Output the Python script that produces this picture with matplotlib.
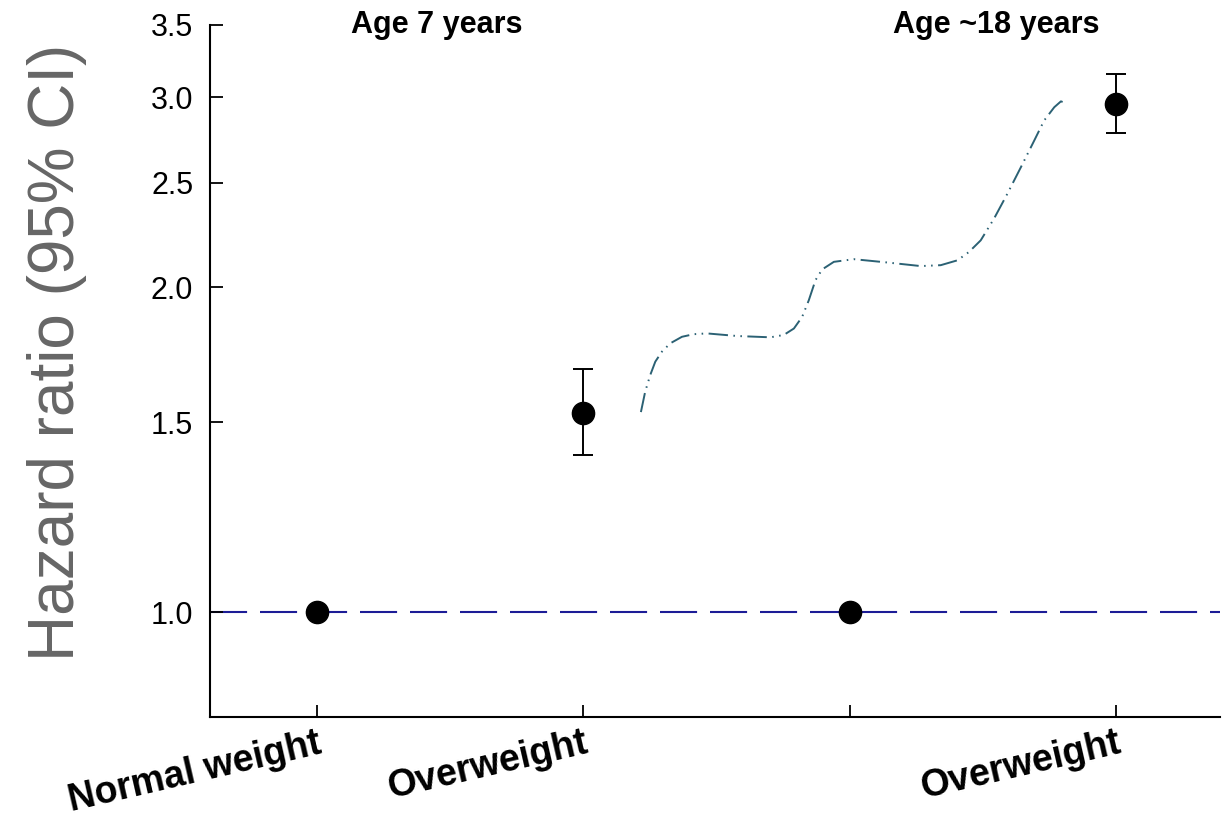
import matplotlib
matplotlib.use("Agg")
import matplotlib.pyplot as plt

# categorias e valores (razao de risco e IC 95%)
categorias = ["Normal weight", "Overweight", "", "Overweight"]
hr = [1.0, 1.53, 1.0, 2.96]
ic_inf = [1.0, 1.40, 1.0, 2.78]
ic_sup = [1.0, 1.68, 1.0, 3.15]

# curva tracejada entre os grupos
curva_x = [1.217, 1.233, 1.252, 1.271, 1.296, 1.327, 1.371, 1.415, 1.465, 1.578,
           1.703, 1.753, 1.791, 1.822, 1.847, 1.872, 1.897, 1.941, 2.016, 2.142,
           2.267, 2.342, 2.405, 2.448, 2.492, 2.542, 2.592, 2.643, 2.693, 2.730,
           2.768, 2.793, 2.812]
curva_y = [1.533, 1.601, 1.659, 1.707, 1.744, 1.775, 1.800, 1.810, 1.813, 1.803,
           1.798, 1.807, 1.832, 1.878, 1.946, 2.031, 2.078, 2.112, 2.124, 2.109,
           2.093, 2.097, 2.119, 2.157, 2.211, 2.316, 2.442, 2.585, 2.736, 2.855,
           2.937, 2.974, 2.962]

yticks = [1.0, 1.5, 2.0, 2.5, 3.0, 3.5]
titulos = ["Age 7 years", "Age ~18 years"]
titulos_x = [0.45, 2.55]

plt.rcParams["font.family"] = ["Liberation Sans", "DejaVu Sans"]

fig = plt.figure(figsize=(12.3, 8.22), dpi=100)
ax = fig.add_axes([0.1707, 0.1277, 0.8212, 0.8419])

x = list(range(len(hr)))

ax.axhline(1.0, color="#1c1c96", lw=1.5, dashes=(17.8, 6.2), zorder=1)
ax.plot(curva_x, curva_y, color="#2b6174", lw=1.4,
        dashes=(10, 2.8, 0.8, 2.8, 0.8, 2.8))

erro_baixo = [h - l for h, l in zip(hr, ic_inf)]
erro_cima = [u - h for h, u in zip(hr, ic_sup)]
ax.errorbar(x, hr, yerr=[erro_baixo, erro_cima], fmt="o", color="black",
            ms=16, capsize=7.5, elinewidth=1.4, capthick=1.4, zorder=3)

ax.set_yscale("log")
ax.set_ylim(0.8, 3.5)
ax.set_xlim(-0.4, 3.39)
ax.set_yticks(yticks)
ax.set_yticklabels([f"{v:.1f}" for v in yticks], fontsize=22)
ax.yaxis.set_minor_locator(matplotlib.ticker.NullLocator())
ax.set_xticks(x)
ax.set_xticklabels(categorias, fontsize=27, fontweight="bold", rotation=13,
                   ha="right", va="top", rotation_mode="anchor")
ax.tick_params(axis="y", direction="in", length=9, width=1.3, pad=12)
ax.tick_params(axis="x", direction="in", length=9, width=1.3, pad=6)

for lado in ["top", "right"]:
    ax.spines[lado].set_visible(False)
for lado in ["left", "bottom"]:
    ax.spines[lado].set_linewidth(1.5)

ax.set_ylabel("Hazard ratio (95% CI)", fontsize=46, color="#666666")
ax.yaxis.set_label_coords(-0.122, 0.527)

for t, tx in zip(titulos, titulos_x):
    ax.text(tx, 3.5, t, fontsize=22, fontweight="bold", ha="center", va="center")

fig.savefig("out.png", dpi=100)
